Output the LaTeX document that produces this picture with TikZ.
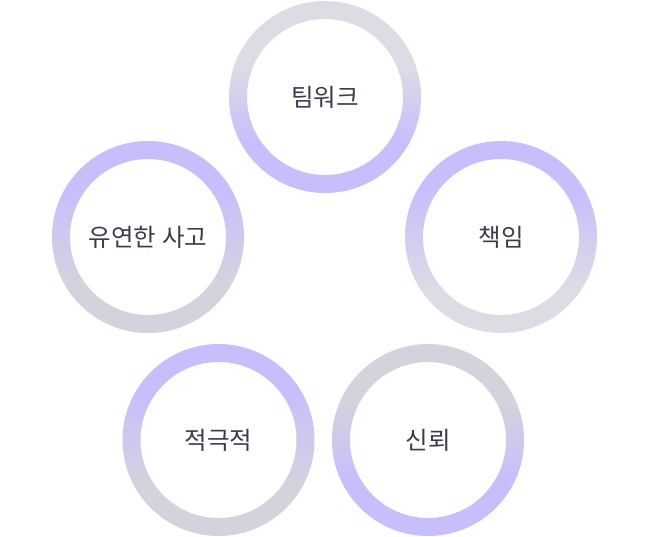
\documentclass[tikz,border=0pt]{standalone}
\usepackage{fontspec}
\newfontfamily\krfont{Noto Sans CJK KR}
\definecolor{pur}{HTML}{C7BFFC}
\definecolor{gryL}{HTML}{DCDCE4}
\definecolor{gryD}{HTML}{D3D3DE}
\definecolor{txt}{HTML}{3C3C4E}
% vertical shadings: 25bp = bottom of path, 75bp = top of path
\pgfdeclareverticalshading{purtopL}{100bp}{color(0bp)=(gryL); color(36bp)=(gryL); color(62bp)=(pur); color(100bp)=(pur)}
\pgfdeclareverticalshading{purtopD}{100bp}{color(0bp)=(gryD); color(38bp)=(gryD); color(62bp)=(pur); color(100bp)=(pur)}
\pgfdeclareverticalshading{grytopL}{100bp}{color(0bp)=(pur); color(39bp)=(pur); color(58bp)=(gryL); color(100bp)=(gryL)}
\pgfdeclareverticalshading{grytopD}{100bp}{color(0bp)=(pur); color(40bp)=(pur); color(60bp)=(gryD); color(100bp)=(gryD)}
\tikzset{
  ring/.style={shading=#1, even odd rule},
  lbl/.style={font=\krfont\fontsize{24.5}{28}\selectfont, text=txt, inner sep=0pt}
}
\begin{document}
\begin{tikzpicture}[x=1pt,y=-1pt]
\useasboundingbox (0,0) rectangle (650,536);
\fill[white] (0,0) rectangle (650,536);
% rings
\path[ring=grytopL] (325,97) circle[radius=96] (325,97) circle[radius=78];
\path[ring=purtopL] (501,237) circle[radius=96] (501,237) circle[radius=78];
\path[ring=purtopD] (148,237) circle[radius=96] (148,237) circle[radius=78];
\path[ring=purtopD] (218.5,440) circle[radius=96] (218.5,440) circle[radius=78];
\path[ring=grytopD] (428,440) circle[radius=96] (428,440) circle[radius=78];
% labels
\node[lbl] (teamwork) at (325,97) {팀워크};
\node[lbl] (responsibility) at (501,237) {책임};
\node[lbl] (flexible) at (148,237) {유연한 사고};
\node[lbl] (active) at (218.5,440) {적극적};
\node[lbl] (trust) at (428,440) {신뢰};
\end{tikzpicture}
\end{document}
